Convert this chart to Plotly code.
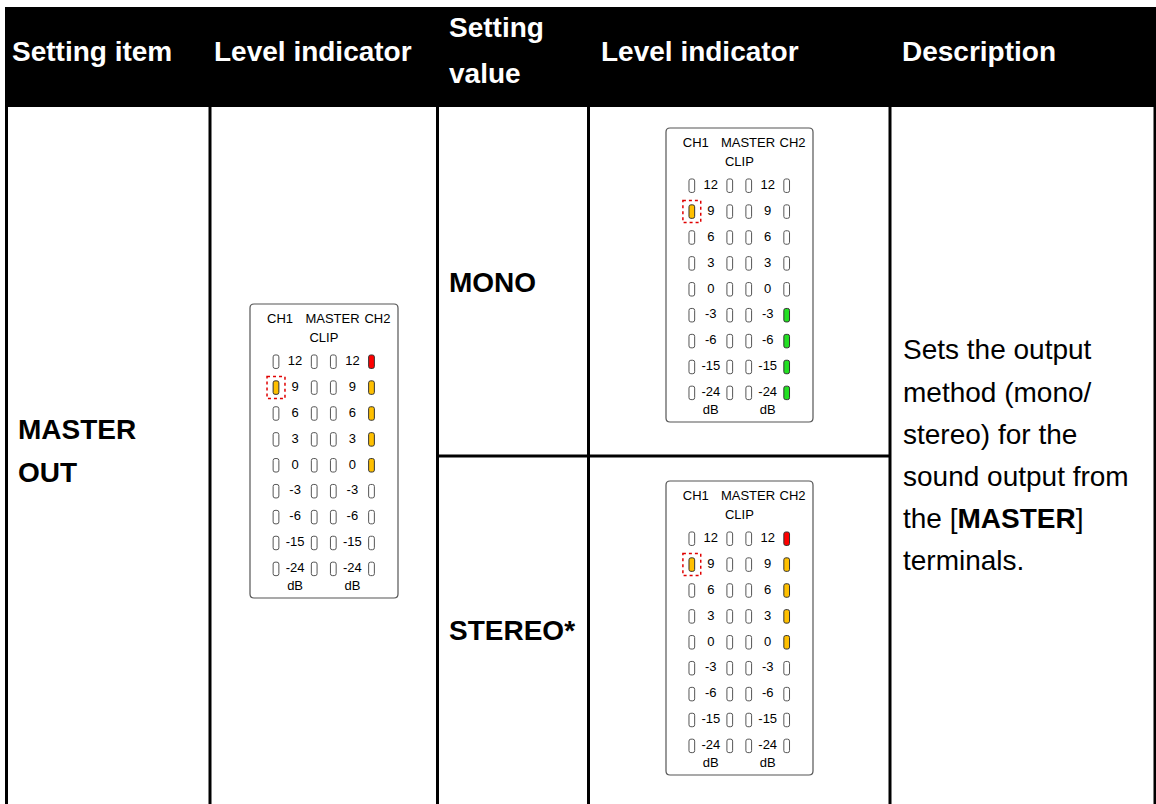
import plotly.graph_objects as go

# ---------------- data ----------------
header_labels = ["Setting item", "Level indicator", "Setting", "value", "Level indicator", "Description"]
item_lines = ["MASTER", "OUT"]
setting_values = ["MONO", "STEREO*"]
description_lines = ["Sets the output", "method (mono/", "stereo) for the",
                     "sound output from", "the [<b>MASTER</b>]", "terminals."]

levels = ["12", "9", "6", "3", "0", "-3", "-6", "-15", "-24"]
meter_top_labels = ["CH1", "MASTER", "CH2"]
meter_sub_label = "CLIP"
unit_label = "dB"

# LED states from top (12) to bottom (-24): "" off, "A" amber, "R" red, "G" green
before_ch1 = ["", "A", "", "", "", "", "", "", ""]
before_mst_l = ["", "", "", "", "", "", "", "", ""]
before_mst_r = ["", "", "", "", "", "", "", "", ""]
before_ch2 = ["R", "A", "A", "A", "A", "", "", "", ""]

mono_ch1 = ["", "A", "", "", "", "", "", "", ""]
mono_mst_l = ["", "", "", "", "", "", "", "", ""]
mono_mst_r = ["", "", "", "", "", "", "", "", ""]
mono_ch2 = ["", "", "", "", "", "G", "G", "G", "G"]

stereo_ch1 = ["", "A", "", "", "", "", "", "", ""]
stereo_mst_l = ["", "", "", "", "", "", "", "", ""]
stereo_mst_r = ["", "", "", "", "", "", "", "", ""]
stereo_ch2 = ["R", "A", "A", "A", "A", "", "", "", ""]

highlight_level = "9"  # CH1 LED framed by the dotted red box

# ---------------- style / layout ----------------
W, H = 1156, 804
FONT = "Arial, 'Liberation Sans', sans-serif"
LED_COLORS = {"": "white", "A": "#FFC000", "R": "#FF0000", "G": "#22E022"}


def px(x):
    return x / W


def py(y):
    return 1 - y / H


panels = [
    dict(box=(250, 304, 398, 598), cols=[before_ch1, before_mst_l, before_mst_r, before_ch2]),
    dict(box=(666, 128, 813, 422), cols=[mono_ch1, mono_mst_l, mono_mst_r, mono_ch2]),
    dict(box=(666, 481, 813, 775), cols=[stereo_ch1, stereo_mst_l, stereo_mst_r, stereo_ch2]),
]
LED_X = [0, 2, 3, 5]        # meter column slots for the four LED columns
LABEL_X = [1, 4]            # slots for the level numbers
TOP_LABEL_X = [0.21, 2.96, 5.31]
XR = [-1.361, 6.387]
YR = [9.124, -2.228]


def rrect(x0, y0, x1, y1, rx, ry):
    return (f"M{x0+rx},{y0} L{x1-rx},{y0} Q{x1},{y0} {x1},{y0+ry} "
            f"L{x1},{y1-ry} Q{x1},{y1} {x1-rx},{y1} L{x0+rx},{y1} "
            f"Q{x0},{y1} {x0},{y1-ry} L{x0},{y0+ry} Q{x0},{y0} {x0+rx},{y0} Z")


fig = go.Figure()
shapes = []
annotations = []
layout_axes = {}

# table header band
shapes.append(dict(type="rect", xref="paper", yref="paper", x0=px(5), x1=px(1156),
                   y0=py(107), y1=py(7), fillcolor="black", line=dict(width=0), layer="below"))
# vertical rules
for xv in [6.5, 210, 437.5, 588.5, 890, 1155]:
    shapes.append(dict(type="line", xref="paper", yref="paper", x0=px(xv), x1=px(xv),
                       y0=py(107), y1=py(804), line=dict(color="black", width=3)))
# horizontal rule between MONO and STEREO
shapes.append(dict(type="line", xref="paper", yref="paper", x0=px(437.5), x1=px(890),
                   y0=py(456), y1=py(456), line=dict(color="black", width=3)))

# header texts
hdr_pos = [(10, 51), (212, 51), (447, 28), (447, 73), (599, 51), (900, 51)]
for txt, (x, y) in zip(header_labels, hdr_pos):
    annotations.append(dict(text=f"<b>{txt}</b>", x=px(x), y=py(y), xref="paper", yref="paper",
                            xanchor="left", yanchor="middle", showarrow=False,
                            font=dict(family=FONT, size=28, color="white")))

# body texts
for txt, y in zip(item_lines, [430, 472]):
    annotations.append(dict(text=f"<b>{txt}</b>", x=px(16), y=py(y), xref="paper", yref="paper",
                            xanchor="left", yanchor="middle", showarrow=False,
                            font=dict(family=FONT, size=28, color="black")))
for txt, y in zip(setting_values, [282, 630]):
    annotations.append(dict(text=f"<b>{txt}</b>", x=px(447), y=py(y), xref="paper", yref="paper",
                            xanchor="left", yanchor="middle", showarrow=False,
                            font=dict(family=FONT, size=28, color="black")))
for i, txt in enumerate(description_lines):
    annotations.append(dict(text=txt, x=px(901), y=py(350 + 42 * i), xref="paper", yref="paper",
                            xanchor="left", yanchor="middle", showarrow=False,
                            font=dict(family=FONT, size=28, color="black")))

# level meters
for k, pnl in enumerate(panels, start=1):
    bx0, by0, bx1, by1 = pnl["box"]
    xa = "x" if k == 1 else f"x{k}"
    ya = "y" if k == 1 else f"y{k}"
    layout_axes["xaxis" if k == 1 else f"xaxis{k}"] = dict(
        domain=[px(bx0), px(bx1)], range=XR, visible=False, fixedrange=True, anchor=ya)
    layout_axes["yaxis" if k == 1 else f"yaxis{k}"] = dict(
        domain=[py(by1), py(by0)], range=YR, visible=False, fixedrange=True, anchor=xa)

    # outer frame
    shapes.append(dict(type="path", xref="paper", yref="paper",
                       path=rrect(px(bx0), py(by1), px(bx1), py(by0), 4 / W, 4 / H),
                       line=dict(color="#555555", width=1.2), fillcolor="white", layer="below"))

    # level numbers and unit labels
    tx, ty, tt = [], [], []
    for lx in LABEL_X:
        for i, lv in enumerate(levels):
            tx.append(lx); ty.append(i); tt.append(lv)
        tx.append(lx); ty.append(len(levels) - 0.3); tt.append(unit_label)
    for lbl, lx in zip(meter_top_labels, TOP_LABEL_X):
        tx.append(lx); ty.append(-1.61); tt.append(lbl)
    tx.append(2.51); ty.append(-0.876); tt.append(meter_sub_label)
    fig.add_trace(go.Scatter(x=tx, y=ty, text=tt, mode="text", xaxis=xa, yaxis=ya,
                             textfont=dict(family=FONT, size=13, color="black"),
                             hoverinfo="skip", showlegend=False))

    # LEDs
    hw, hh, rx, ry = 0.15, 0.26, 0.1, 0.075
    for col_x, states in zip(LED_X, pnl["cols"]):
        for i, st in enumerate(states):
            shapes.append(dict(type="path", xref=xa, yref=ya,
                               path=rrect(col_x - hw, i - hh, col_x + hw, i + hh, rx, ry),
                               fillcolor=LED_COLORS[st],
                               line=dict(color="#333333" if st else "#555555", width=1)))
    # dotted highlight around CH1 LED
    hi = levels.index(highlight_level)
    shapes.append(dict(type="rect", xref=xa, yref=ya, x0=LED_X[0] - 0.47, x1=LED_X[0] + 0.47,
                       y0=hi - 0.425, y1=hi + 0.425,
                       line=dict(color="#E00000", width=1.5, dash="dot")))

fig.update_layout(width=W, height=H, margin=dict(l=0, r=0, t=0, b=0),
                  paper_bgcolor="white", plot_bgcolor="rgba(0,0,0,0)",
                  showlegend=False, shapes=shapes, annotations=annotations, **layout_axes)
fig.write_html("out.html", config={"displayModeBar": False},
               post_script="document.body.style.margin='0';document.body.style.overflow='hidden';")
